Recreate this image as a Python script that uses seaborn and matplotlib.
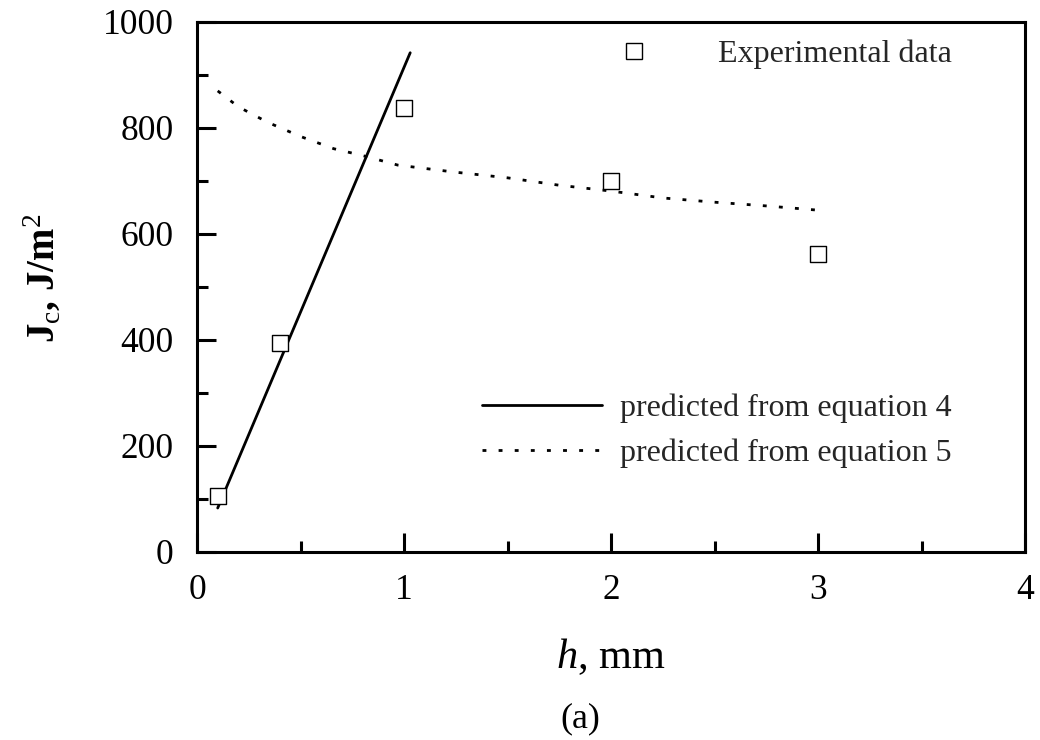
import numpy as np
import pandas as pd
import matplotlib
matplotlib.use("Agg")
import matplotlib.pyplot as plt
import seaborn as sns
from matplotlib.lines import Line2D
from matplotlib.ticker import MultipleLocator

# ---- data ----
exp_h = [0.1, 0.4, 1.0, 2.0, 3.0]
exp_J = [105, 395, 838, 700, 562]

eq4_h = [0.1, 1.03]
eq4_J = [83, 942]

eq5_h = [0.1, 0.2, 0.34, 0.5, 0.66, 0.81, 0.97, 1.24, 1.5, 1.75, 2.0, 2.25, 2.5, 2.75, 3.03]
eq5_J = [870, 840, 811, 784, 761, 747, 730, 717, 706, 692, 681, 668, 660, 653, 644]

x_ticks = [0, 1, 2, 3, 4]
y_ticks = [0, 200, 400, 600, 800, 1000]

sns.set_theme(style="white")
plt.rcParams['font.family'] = ['Liberation Serif', 'DejaVu Serif']
plt.rcParams['mathtext.fontset'] = 'custom'
plt.rcParams['mathtext.rm'] = 'Liberation Serif'
plt.rcParams['mathtext.it'] = 'Liberation Serif:italic'
plt.rcParams['mathtext.bf'] = 'Liberation Serif:bold'

fig = plt.figure(figsize=(10.4, 7.4), dpi=100)
ax = fig.add_axes([197/1040, 1 - 552/740, 828/1040, 530/740])

df_exp = pd.DataFrame({"h": exp_h, "J": exp_J})
df4 = pd.DataFrame({"h": eq4_h, "J": eq4_J})
df5 = pd.DataFrame({"h": eq5_h, "J": eq5_J})

sns.lineplot(data=df4, x="h", y="J", ax=ax, color="black", linewidth=2.0,
             sort=False, legend=False)
sns.lineplot(data=df5, x="h", y="J", ax=ax, color="black", linewidth=2.0,
             linestyle=(0, (1.4, 4.4)), sort=False, legend=False)
sns.scatterplot(data=df_exp, x="h", y="J", ax=ax, marker="s", s=130,
                facecolor="white", edgecolor="black", linewidth=1.0,
                legend=False, zorder=5)

ax.set_xlim(0, 4)
ax.set_ylim(0, 1000)
ax.set_xticks(x_ticks)
ax.set_yticks(y_ticks)
ax.xaxis.set_minor_locator(MultipleLocator(0.5))
ax.yaxis.set_minor_locator(MultipleLocator(100))
ax.tick_params(which='both', direction='in', top=False, right=False,
               bottom=True, left=True, color='black', labelsize=25.5,
               labelcolor='black')
ax.tick_params(which='major', length=14, width=2.2)
ax.tick_params(which='minor', length=8, width=2.2)
ax.tick_params(axis='y', which='major', pad=17)
ax.tick_params(axis='x', which='major', pad=16)
for sp in ax.spines.values():
    sp.set_visible(True)
    sp.set_color('black')
    sp.set_linewidth(2.2)

ax.set_xlabel("$h$, mm", fontsize=30.5, color='black')
ax.xaxis.set_label_coords(0.5, -(657 - 552) / 530)
ax.xaxis.label.set_va('center')
ax.set_ylabel(r"J$_\mathrm{c}$, J/m$^2$", fontsize=28, fontweight='bold',
              color='black')
ax.yaxis.set_label_coords(-(197 - 42) / 828, (552 - 278) / 530)
ax.yaxis.label.set_va('center')

# legends
h_exp = Line2D([], [], marker='s', markersize=11.5, markerfacecolor='white',
               markeredgecolor='black', markeredgewidth=1.0, linestyle='none')
leg1 = ax.legend([h_exp], ["Experimental data"], loc='center left',
                 bbox_to_anchor=((600 - 197) / 828, (552 - 54) / 530),
                 frameon=False, fontsize=23, handlelength=2.13,
                 handletextpad=1.57, borderpad=0, borderaxespad=0)
ax.add_artist(leg1)

h4 = Line2D([], [], color='black', linewidth=2.0)
h5 = Line2D([], [], color='black', linewidth=2.0, linestyle=(0, (1.4, 4.4)))
ax.legend([h4, h5], ["predicted from equation 4", "predicted from equation 5"],
          loc='center left', bbox_to_anchor=((482 - 197) / 828, (552 - 431) / 530),
          frameon=False, fontsize=23, handlelength=3.76, handletextpad=0.56,
          labelspacing=0.5, borderpad=0, borderaxespad=0)

fig.text(580 / 1040, 1 - 719 / 740, "(a)", ha='center', va='center',
         fontsize=26, color='black')

fig.savefig("out.png", dpi=100)
